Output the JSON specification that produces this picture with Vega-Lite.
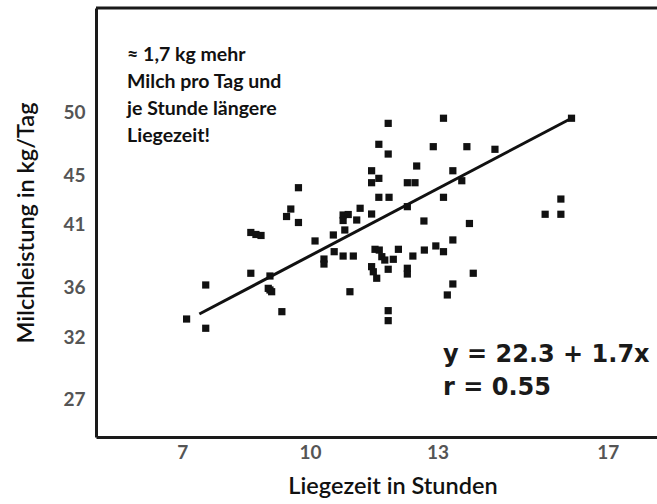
{
  "$schema": "https://vega.github.io/schema/vega-lite/v6.json",
  "width": 561,
  "height": 429,
  "autosize": "none",
  "padding": {"left": 96, "top": 8, "right": 0, "bottom": 67},
  "background": "white",
  "config": {"view": {"stroke": null}, "font": "Lato"},
  "layer": [
    {
      "data": {"values": [{}]},
      "mark": {"type": "rule", "color": "#1a1a1a", "strokeWidth": 3},
      "encoding": {"y": {"datum": 58.4, "type": "quantitative"}}
    },
    {
      "data": {"values": [
        {"x": 7.10, "y": 33.46}, {"x": 7.55, "y": 36.19}, {"x": 7.55, "y": 32.72},
        {"x": 8.61, "y": 37.13}, {"x": 9.06, "y": 36.91}, {"x": 9.02, "y": 35.92},
        {"x": 9.10, "y": 35.65}, {"x": 9.06, "y": 35.79}, {"x": 9.34, "y": 34.05},
        {"x": 8.61, "y": 40.40}, {"x": 8.73, "y": 40.24}, {"x": 8.85, "y": 40.16},
        {"x": 9.73, "y": 43.99}, {"x": 9.55, "y": 42.28}, {"x": 9.45, "y": 41.68},
        {"x": 9.73, "y": 41.20}, {"x": 10.12, "y": 39.72}, {"x": 10.33, "y": 38.27},
        {"x": 10.33, "y": 37.87}, {"x": 10.55, "y": 40.20}, {"x": 10.57, "y": 38.86},
        {"x": 10.78, "y": 41.80}, {"x": 10.90, "y": 41.84}, {"x": 10.78, "y": 41.36},
        {"x": 10.82, "y": 40.60}, {"x": 10.78, "y": 38.51}, {"x": 11.02, "y": 38.51},
        {"x": 10.94, "y": 35.65}, {"x": 11.10, "y": 41.40}, {"x": 11.18, "y": 42.34},
        {"x": 11.45, "y": 41.88}, {"x": 11.45, "y": 45.35}, {"x": 11.62, "y": 44.74},
        {"x": 11.45, "y": 44.39}, {"x": 11.62, "y": 47.47}, {"x": 11.84, "y": 49.15},
        {"x": 11.84, "y": 46.69}, {"x": 11.62, "y": 43.22}, {"x": 11.86, "y": 43.22},
        {"x": 11.53, "y": 39.05}, {"x": 11.63, "y": 38.99}, {"x": 11.69, "y": 38.46},
        {"x": 11.76, "y": 38.19}, {"x": 11.96, "y": 38.25}, {"x": 12.08, "y": 39.05},
        {"x": 11.45, "y": 37.66}, {"x": 11.49, "y": 37.25}, {"x": 11.57, "y": 36.73},
        {"x": 11.84, "y": 37.45}, {"x": 11.84, "y": 34.13}, {"x": 11.84, "y": 33.33},
        {"x": 12.29, "y": 44.39}, {"x": 12.47, "y": 44.39}, {"x": 12.29, "y": 42.47},
        {"x": 12.51, "y": 45.73}, {"x": 12.29, "y": 37.53}, {"x": 12.29, "y": 37.07},
        {"x": 12.42, "y": 38.51}, {"x": 12.68, "y": 41.32}, {"x": 12.69, "y": 38.99},
        {"x": 12.90, "y": 47.28}, {"x": 12.96, "y": 39.32}, {"x": 13.14, "y": 49.56},
        {"x": 13.14, "y": 43.22}, {"x": 13.14, "y": 38.86}, {"x": 13.36, "y": 45.35},
        {"x": 13.36, "y": 39.80}, {"x": 13.57, "y": 44.55}, {"x": 13.69, "y": 47.28},
        {"x": 13.75, "y": 41.12}, {"x": 13.84, "y": 37.13}, {"x": 13.36, "y": 36.27},
        {"x": 13.23, "y": 35.39}, {"x": 14.35, "y": 47.07}, {"x": 15.53, "y": 41.86},
        {"x": 15.90, "y": 43.08}, {"x": 15.90, "y": 41.86}, {"x": 16.15, "y": 49.56}
      ]},
      "mark": {"type": "point", "shape": "square", "filled": true, "size": 52, "color": "#111111", "opacity": 1},
      "encoding": {
        "x": {
          "field": "x", "type": "quantitative",
          "scale": {"domain": [4.97, 18.16], "nice": false, "zero": false},
          "axis": {
            "values": [7, 10, 13, 17], "grid": false, "ticks": false,
            "domain": true, "domainColor": "#1a1a1a", "domainWidth": 3,
            "labelFont": "Lato", "labelFontWeight": "bold", "labelFontSize": 19,
            "labelColor": "#555555", "labelPadding": 6,
            "title": "Liegezeit in Stunden", "titleFont": "Lato", "titleFontSize": 23.5,
            "titleFontWeight": 600, "titleColor": "#111111", "titlePadding": 12,
            "titleX": 296.5
          }
        },
        "y": {
          "field": "y", "type": "quantitative",
          "scale": {"domain": [24, 58.4], "nice": false, "zero": false},
          "axis": {
            "values": [27, 32, 36, 41, 45, 50], "grid": false, "ticks": false,
            "domain": true, "domainColor": "#1a1a1a", "domainWidth": 3,
            "labelFont": "Lato", "labelFontWeight": "bold", "labelFontSize": 19,
            "labelColor": "#555555", "labelPadding": 11,
            "title": "Milchleistung in kg/Tag", "titleFont": "Lato", "titleFontSize": 23.5,
            "titleFontWeight": 600, "titleColor": "#111111", "titlePadding": 24
          }
        }
      }
    },
    {
      "data": {"values": [{"x": 7.40, "y": 33.86}, {"x": 16.15, "y": 49.56}]},
      "mark": {"type": "line", "color": "#111111", "strokeWidth": 3},
      "encoding": {
        "x": {"field": "x", "type": "quantitative"},
        "y": {"field": "y", "type": "quantitative"}
      }
    },
    {
      "data": {"values": [{}]},
      "mark": {
        "type": "text",
        "text": ["≈ 1,7 kg mehr", "Milch pro Tag und", "je Stunde längere", "Liegezeit!"],
        "align": "left", "baseline": "top", "font": "Lato", "fontSize": 19.5,
        "fontWeight": "bold", "lineHeight": 27, "color": "#111111"
      },
      "encoding": {
        "x": {"datum": 5.70, "type": "quantitative"},
        "y": {"datum": 55.37, "type": "quantitative"}
      }
    },
    {
      "data": {"values": [{}]},
      "mark": {
        "type": "text",
        "text": ["y = 22.3 + 1.7x", "r = 0.55"],
        "align": "left", "baseline": "top", "font": "DejaVu Sans", "fontSize": 24,
        "fontWeight": "bold", "lineHeight": 33, "color": "#1a1a1a"
      },
      "encoding": {
        "x": {"datum": 13.13, "type": "quantitative"},
        "y": {"datum": 31.55, "type": "quantitative"}
      }
    }
  ]
}
